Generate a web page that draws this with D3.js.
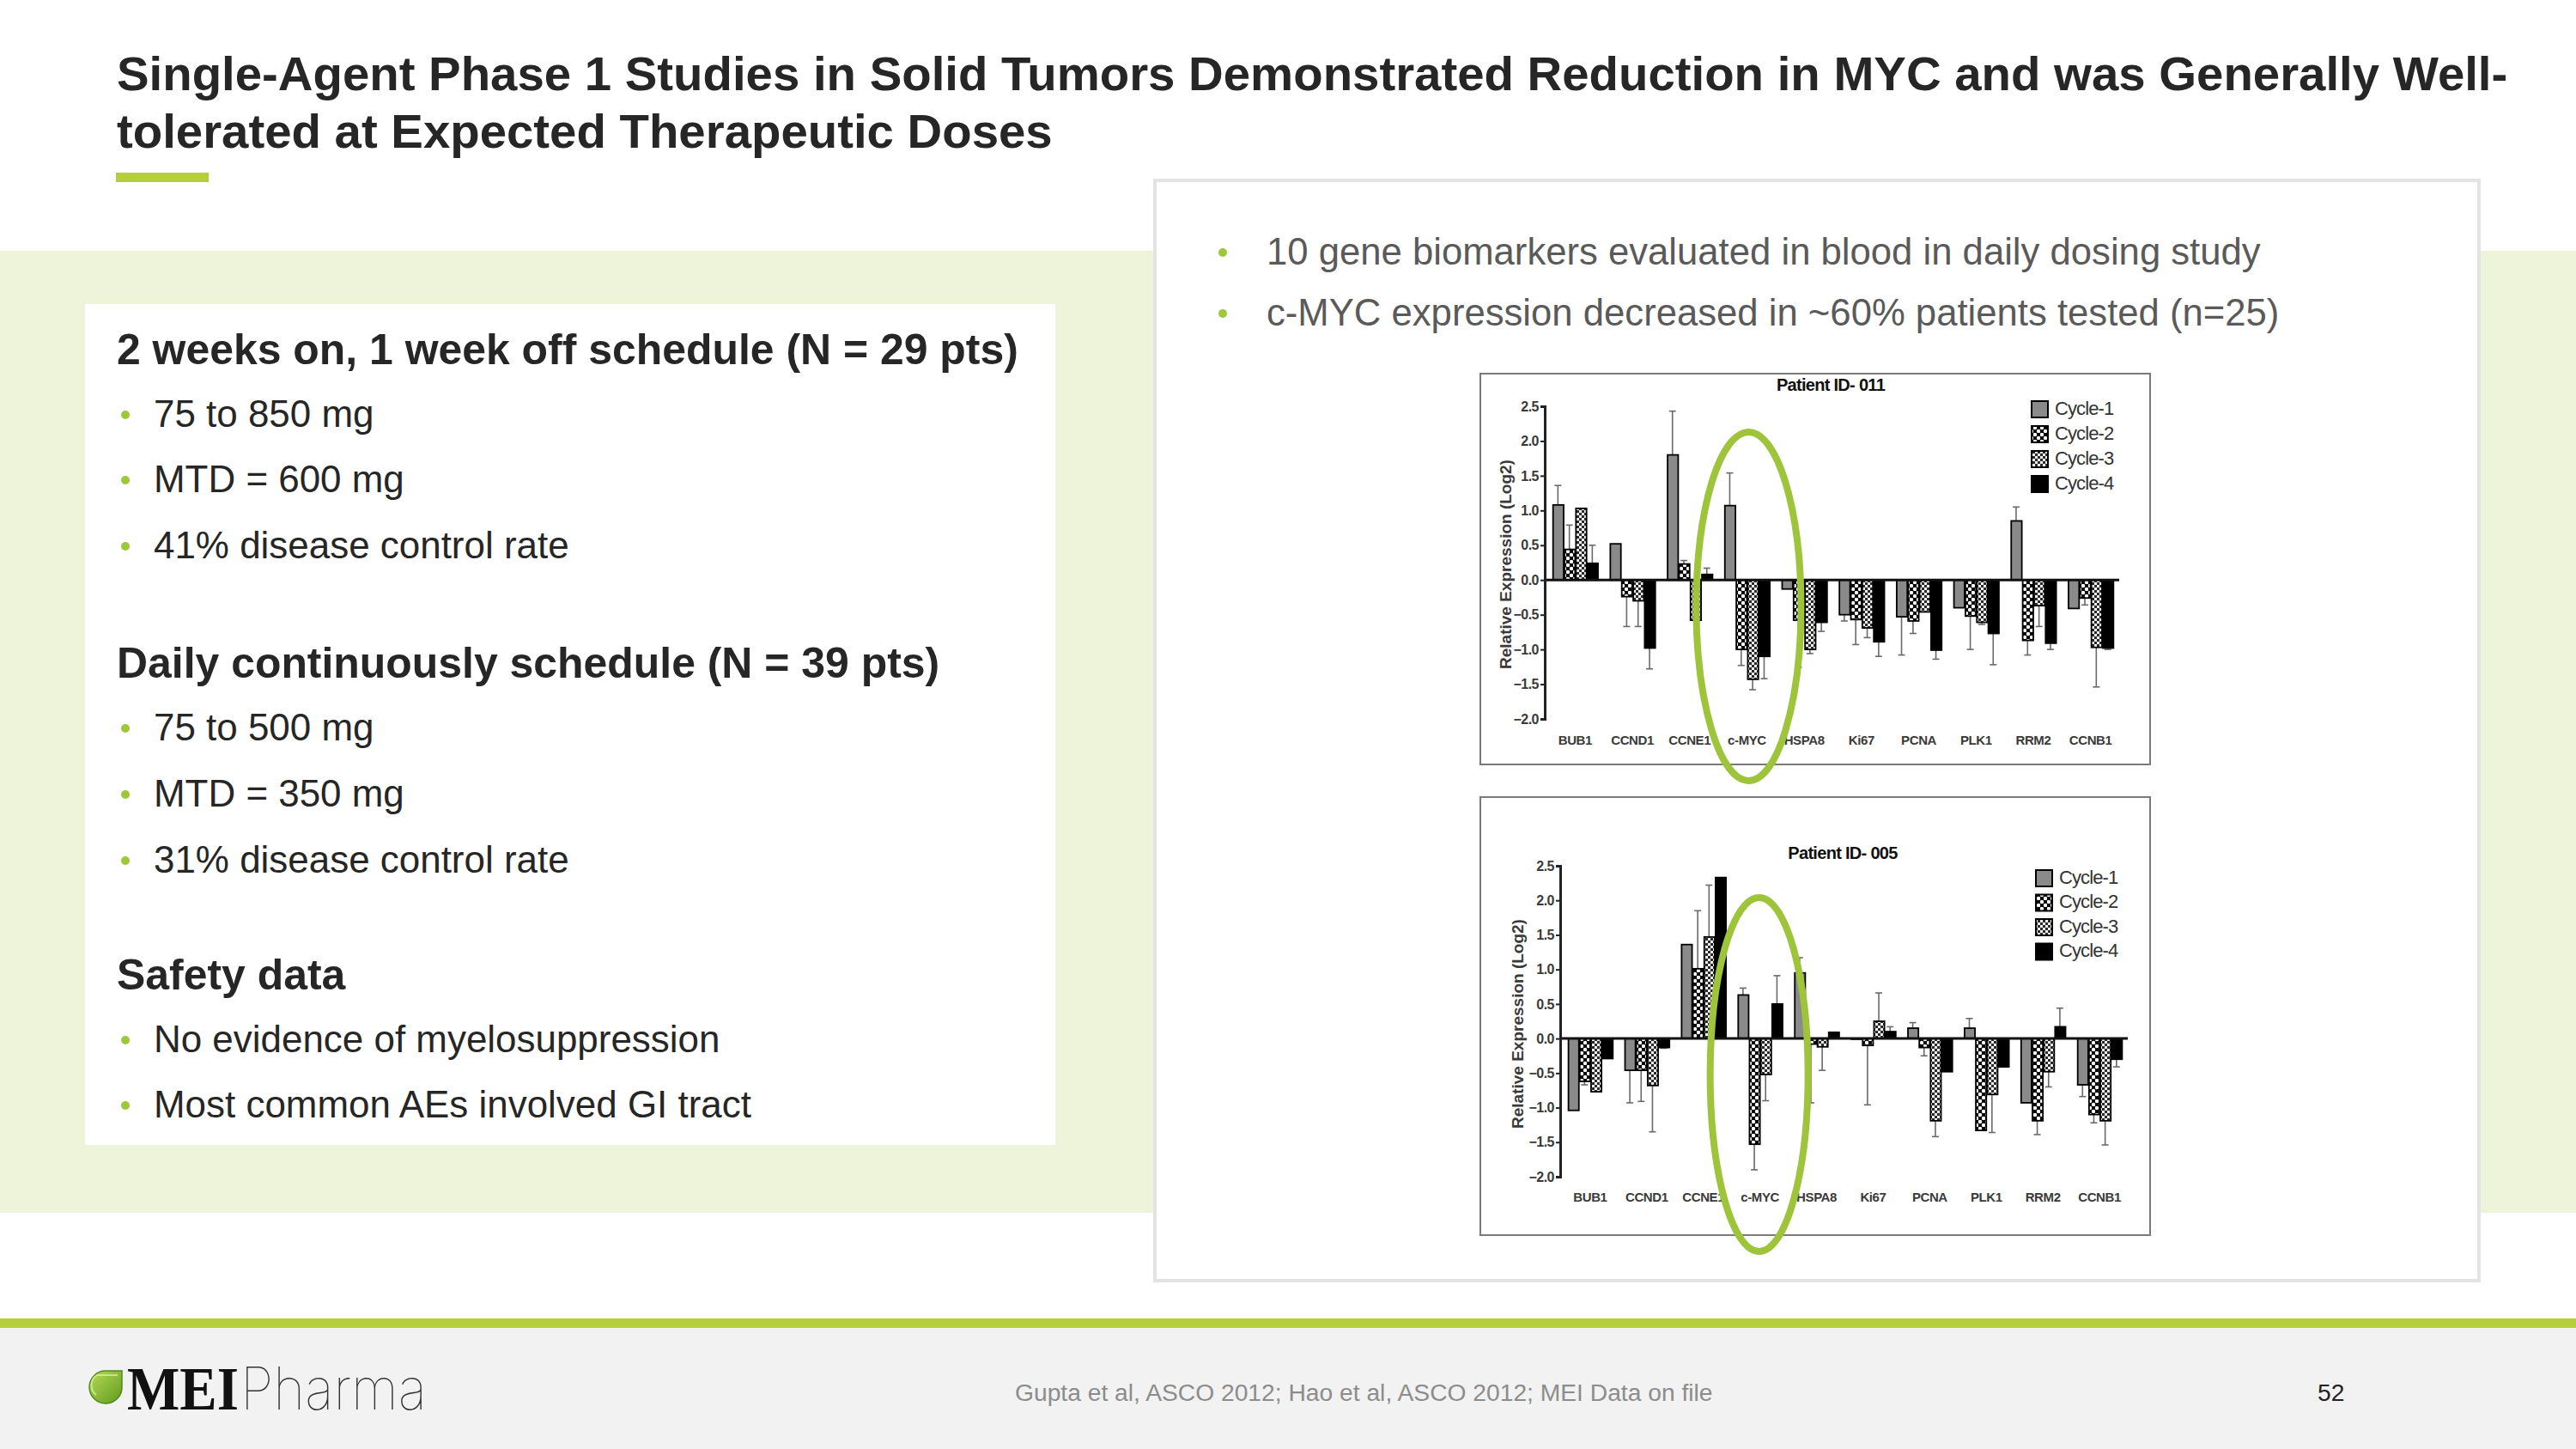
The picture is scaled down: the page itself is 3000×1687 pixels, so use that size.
<!DOCTYPE html>
<html><head><meta charset="utf-8">
<script src="https://cdn.jsdelivr.net/npm/d3@7"></script>
<style>html,body{margin:0;padding:0;background:#fff;}svg{display:block;}</style>
</head><body>
<svg id="slide" width="3000" height="1687"></svg>
<script>
// ---------------- DATA ----------------
const genes = ["BUB1","CCND1","CCNE1","c-MYC","HSPA8","Ki67","PCNA","PLK1","RRM2","CCNB1"];
const cycles = ["Cycle-1","Cycle-2","Cycle-3","Cycle-4"];
const yTicks = [-2.0,-1.5,-1.0,-0.5,0.0,0.5,1.0,1.5,2.0,2.5];

// Patient ID-011 (bar value, error-bar tip; null = no visible error bar)
const p011Cycle1 = [1.08, 0.52, 1.80, 1.07, -0.13, -0.50, -0.53, -0.40, 0.85, -0.41];
const p011Cycle2 = [0.44, -0.24, 0.23, -1.00, -0.58, -0.57, -0.59, -0.52, -0.87, -0.26];
const p011Cycle3 = [1.03, -0.30, -0.58, -1.43, -1.00, -0.69, -0.46, -0.61, -0.37, -0.97];
const p011Cycle4 = [0.24, -0.98, 0.08, -1.10, -0.61, -0.89, -1.01, -0.77, -0.91, -0.98];
const p011Err1 = [1.36, null, 2.43, 1.54, null, -0.59, -1.08, null, 1.05, null];
const p011Err2 = [0.79, -0.67, 0.28, -1.23, -1.26, -0.93, -0.77, -1.00, -1.08, -0.36];
const p011Err3 = [null, -0.67, null, -1.58, -1.06, -0.83, null, -0.64, -0.67, -1.54];
const p011Err4 = [0.50, -1.28, 0.17, -1.42, -0.74, -1.10, -1.14, -1.22, -1.00, -1.00];

// Patient ID-005
const p005Cycle1 = [-1.04, -0.46, 1.36, 0.63, 0.95, -0.01, 0.15, 0.15, -0.93, -0.67];
const p005Cycle2 = [-0.62, -0.46, 1.01, -1.53, -0.08, -0.10, -0.13, -1.33, -1.19, -1.10];
const p005Cycle3 = [-0.77, -0.68, 1.47, -0.52, -0.12, 0.25, -1.19, -0.81, -0.48, -1.19];
const p005Cycle4 = [-0.29, -0.13, 2.33, 0.50, 0.09, 0.10, -0.48, -0.41, 0.17, -0.30];
const p005Err1 = [null, -0.93, null, 0.73, 1.17, null, 0.23, 0.29, null, -0.84];
const p005Err2 = [-0.67, -0.91, 1.85, -1.90, -0.93, -0.96, -0.25, null, -1.39, -1.22];
const p005Err3 = [null, -1.35, 2.22, -0.90, -0.46, 0.66, -1.42, -1.36, -0.70, -1.54];
const p005Err4 = [null, -0.14, null, 0.91, null, 0.17, null, null, 0.44, -0.41];

// Slide text
const titleLines = ["Single-Agent Phase 1 Studies in Solid Tumors Demonstrated Reduction in MYC and was Generally Well-",
                    "tolerated at Expected Therapeutic Doses"];
const sectionHeads = ["2 weeks on, 1 week off schedule (N = 29 pts)", "Daily continuously schedule (N = 39 pts)", "Safety data"];
const sectionBullets = [["75 to 850 mg","MTD = 600 mg","41% disease control rate"],
                        ["75 to 500 mg","MTD = 350 mg","31% disease control rate"],
                        ["No evidence of myelosuppression","Most common AEs involved GI tract"]];
const panelBullets = ["10 gene biomarkers evaluated in blood in daily dosing study",
                      "c-MYC expression decreased in ~60% patients tested (n=25)"];
const footerText = "Gupta et al, ASCO 2012; Hao et al, ASCO 2012; MEI Data on file";
const pageNumber = "52";

// ---------------- DRAW ----------------
const SANS = "'Liberation Sans', Arial, Helvetica, sans-serif";
const GREEN = "#b4cf3a";
const svg = d3.select("#slide");

function fitSize(text, weight, target){
  const t = svg.append("text").attr("font-family", SANS).attr("font-weight", weight)
    .attr("font-size", 100).text(text);
  const w = t.node().getComputedTextLength(); t.remove();
  return 100 * target / w;
}

const defs = svg.append("defs");
const p2 = defs.append("pattern").attr("id","pc2").attr("width",8).attr("height",8).attr("patternUnits","userSpaceOnUse");
p2.append("rect").attr("width",8).attr("height",8).attr("fill","#000");
p2.append("circle").attr("cx",2).attr("cy",2).attr("r",2.2).attr("fill","#fff");
p2.append("circle").attr("cx",6).attr("cy",6).attr("r",2.2).attr("fill","#fff");
const p3 = defs.append("pattern").attr("id","pc3").attr("width",6).attr("height",6).attr("patternUnits","userSpaceOnUse");
p3.append("rect").attr("width",6).attr("height",6).attr("fill","#f0f0f0");
p3.append("rect").attr("width",3).attr("height",3).attr("fill","#2a2a2a");
p3.append("rect").attr("x",3).attr("y",3).attr("width",3).attr("height",3).attr("fill","#2a2a2a");
const lg = defs.append("linearGradient").attr("id","leaf").attr("x1",0).attr("y1",0).attr("x2",1).attr("y2",1);
lg.append("stop").attr("offset","0").attr("stop-color","#b8db5a");
lg.append("stop").attr("offset","1").attr("stop-color","#5f9a1c");

const cycleFill = ["#8a8a8a","url(#pc2)","url(#pc3)","#000"];

// Background band
svg.append("rect").attr("x",0).attr("y",292).attr("width",3000).attr("height",1120).attr("fill","#eef4da");

// Title
const tSize = fitSize(titleLines[0], "bold", 2785);
titleLines.forEach((l,i)=> svg.append("text").attr("x",136).attr("y",105+i*67)
  .attr("font-family",SANS).attr("font-weight","bold").attr("font-size",tSize).attr("fill","#262626").text(l));
svg.append("rect").attr("x",135).attr("y",201).attr("width",108).attr("height",11).attr("fill",GREEN);

// Left white box
svg.append("rect").attr("x",99).attr("y",354).attr("width",1130).attr("height",979).attr("fill","#fff");
const hSize = fitSize(sectionHeads[0], "bold", 1050);
const bSize = fitSize(sectionBullets[2][1], "normal", 696);
const headY = [424, 789, 1152];
const bulletY = [[497,573,650],[862,939,1016],[1225,1301]];
sectionHeads.forEach((h,i)=>{
  svg.append("text").attr("x",136).attr("y",headY[i]).attr("font-family",SANS).attr("font-weight","bold")
    .attr("font-size",hSize).attr("fill","#262626").text(h);
  sectionBullets[i].forEach((b,j)=>{
    svg.append("circle").attr("cx",146).attr("cy",bulletY[i][j]-14).attr("r",5).attr("fill","#9dc83a");
    svg.append("text").attr("x",179).attr("y",bulletY[i][j]).attr("font-family",SANS)
      .attr("font-size",bSize).attr("fill","#262626").text(b);
  });
});

// Right panel
svg.append("rect").attr("x",1345).attr("y",210).attr("width",1542).attr("height",1281)
  .attr("fill","#fff").attr("stroke","#e3e3e3").attr("stroke-width",4);
const pbSize = fitSize(panelBullets[1], "normal", 1180);
panelBullets.forEach((b,i)=>{
  svg.append("circle").attr("cx",1424).attr("cy",294+i*71).attr("r",5).attr("fill","#9dc83a");
  svg.append("text").attr("x",1475).attr("y",308+i*71).attr("font-family",SANS)
    .attr("font-size",pbSize).attr("fill","#5a5a5a").text(b);
});

// ---------------- CHARTS ----------------
function drawChart(cfg){
  const g = svg.append("g");
  g.append("rect").attr("x",cfg.frame[0]).attr("y",cfg.frame[1])
    .attr("width",cfg.frame[2]-cfg.frame[0]).attr("height",cfg.frame[3]-cfg.frame[1])
    .attr("fill","#fff").attr("stroke","#7a7a7a").attr("stroke-width",2);

  const y = d3.scaleLinear().domain([-2.0,2.5]).range([cfg.yBottom, cfg.yTop]);
  const x0 = d3.scaleBand().domain(genes).range([cfg.axisX+2, cfg.xEnd]).paddingInner(0.2).paddingOuter(0.1);
  const x1 = d3.scaleBand().domain(cycles).range([0, x0.bandwidth()]);

  // error bars
  cycles.forEach((c,ci)=>{
    genes.forEach((gn,gi)=>{
      const v = cfg.values[ci][gi], e = cfg.errs[ci][gi];
      if(e===null) return;
      const cx = x0(gn)+x1(c)+x1.bandwidth()/2;
      g.append("line").attr("x1",cx).attr("x2",cx).attr("y1",y(v)).attr("y2",y(e))
        .attr("stroke","#6a6a6a").attr("stroke-width",1.6);
      g.append("line").attr("x1",cx-4).attr("x2",cx+4).attr("y1",y(e)).attr("y2",y(e))
        .attr("stroke","#6a6a6a").attr("stroke-width",1.6);
    });
  });
  // bars
  cycles.forEach((c,ci)=>{
    g.append("g").selectAll("rect").data(genes.map((gn,gi)=>({gn, v: cfg.values[ci][gi]})))
      .join("rect")
      .attr("x", d=>x0(d.gn)+x1(c)+1)
      .attr("width", x1.bandwidth()-1)
      .attr("y", d=>y(Math.max(0,d.v)))
      .attr("height", d=>Math.abs(y(d.v)-y(0)))
      .attr("fill", cycleFill[ci]).attr("stroke","#000").attr("stroke-width",1.8);
  });
  // zero line
  g.append("line").attr("x1",cfg.axisX).attr("x2",cfg.xEnd).attr("y1",y(0)).attr("y2",y(0))
    .attr("stroke","#111").attr("stroke-width",3);
  // y axis
  const ax = g.append("g").attr("transform",`translate(${cfg.axisX},0)`)
    .call(d3.axisLeft(y).tickValues(yTicks).tickFormat(d3.format(".1f")).tickSize(5).tickPadding(2));
  ax.select(".domain").attr("stroke","#222").attr("stroke-width",3);
  ax.selectAll(".tick line").attr("stroke","#222").attr("stroke-width",2);
  ax.selectAll(".tick text").attr("font-family",SANS).attr("font-weight","bold").attr("font-size",16)
    .attr("letter-spacing",-0.5).attr("fill","#3a3a3a");
  // axis label
  g.append("text").attr("transform",`translate(${cfg.ylabX},${cfg.ylabY}) rotate(-90)`)
    .attr("text-anchor","middle").attr("dominant-baseline","middle")
    .attr("font-family",SANS).attr("font-weight","bold").attr("font-size",19).attr("fill","#3a3a3a")
    .text("Relative Expression (Log2)");
  // category labels
  g.append("g").selectAll("text").data(genes).join("text")
    .attr("x", d=>x0(d)+x0.bandwidth()/2).attr("y", cfg.labelY)
    .attr("text-anchor","middle").attr("dominant-baseline","middle")
    .attr("font-family",SANS).attr("font-weight","bold").attr("font-size",15).attr("letter-spacing",-0.4)
    .attr("fill","#3a3a3a").text(d=>d);
  // title
  g.append("text").attr("x",cfg.titleX).attr("y",cfg.titleY).attr("text-anchor","middle")
    .attr("dominant-baseline","middle").attr("font-family",SANS).attr("font-weight","bold")
    .attr("font-size",20).attr("letter-spacing",-0.7).attr("fill","#111").text(cfg.title);
  // legend
  cycles.forEach((c,ci)=>{
    const ly = cfg.legendY + ci*cfg.legendStep;
    g.append("rect").attr("x",cfg.legendX).attr("y",ly-10).attr("width",19).attr("height",19)
      .attr("fill",cycleFill[ci]).attr("stroke","#000").attr("stroke-width",2);
    g.append("text").attr("x",cfg.legendX+27).attr("y",ly).attr("dominant-baseline","middle")
      .attr("font-family",SANS).attr("font-size",22).attr("letter-spacing",-0.9).attr("fill","#333").text(c);
  });
  // highlight ellipse around c-MYC
  g.append("ellipse").attr("cx", x0("c-MYC")+x0.bandwidth()/2+cfg.ellDx).attr("cy",cfg.ellCy)
    .attr("rx",cfg.ellRx).attr("ry",cfg.ellRy).attr("fill","none")
    .attr("stroke","#9dc43b").attr("stroke-width",8);
}

drawChart({
  frame:[1724,435,2504,890], axisX:1799, xEnd:2468, yTop:473, yBottom:837,
  values:[p011Cycle1,p011Cycle2,p011Cycle3,p011Cycle4], errs:[p011Err1,p011Err2,p011Err3,p011Err4],
  ylabX:1755, ylabY:657, labelY:863, title:"Patient ID- 011", titleX:2132, titleY:450,
  legendX:2366, legendY:477, legendStep:29, ellDx:2, ellCy:706, ellRx:61, ellRy:203
});
drawChart({
  frame:[1724,928,2504,1438], axisX:1817, xEnd:2478, yTop:1008, yBottom:1370,
  values:[p005Cycle1,p005Cycle2,p005Cycle3,p005Cycle4], errs:[p005Err1,p005Err2,p005Err3,p005Err4],
  ylabX:1769, ylabY:1192, labelY:1395, title:"Patient ID- 005", titleX:2146, titleY:995,
  legendX:2371, legendY:1023, legendStep:28.5, ellDx:-1, ellCy:1251, ellRx:57, ellRy:206
});

// ---------------- FOOTER ----------------
svg.append("rect").attr("x",0).attr("y",1535).attr("width",3000).attr("height",11).attr("fill",GREEN);
svg.append("rect").attr("x",0).attr("y",1546).attr("width",3000).attr("height",141).attr("fill","#f2f2f2");
const fSize = fitSize(footerText, "normal", 813);
svg.append("text").attr("x",1182).attr("y",1631).attr("font-family",SANS).attr("font-size",fSize)
  .attr("fill","#8c8c8c").text(footerText);
svg.append("text").attr("x",2699).attr("y",1631).attr("font-family",SANS).attr("font-size",fSize)
  .attr("fill","#222").text(pageNumber);
// logo
svg.append("path").attr("d","M142,1596 L142,1614 A19,19 0 1 1 123,1596 Z")
  .attr("fill","url(#leaf)").attr("stroke","#4f8a18").attr("stroke-width",1.5);
svg.append("path").attr("d","M137,1601 L113,1601 A14,14 0 0 0 112,1624").attr("fill","none")
  .attr("stroke","#d6ef96").attr("stroke-width",2).attr("opacity",0.8);
svg.append("text").attr("x",148).attr("y",1641).attr("font-family","'Liberation Serif','Times New Roman',serif")
  .attr("font-weight","bold").attr("font-size",72).attr("textLength",130).attr("lengthAdjust","spacingAndGlyphs")
  .attr("fill","#111").text("MEI");
svg.append("text").attr("x",280).attr("y",1641).attr("font-family","Inter, Lato, 'Open Sans', sans-serif")
  .attr("font-weight",100).attr("font-size",68).attr("textLength",217).attr("lengthAdjust","spacingAndGlyphs")
  .attr("fill","#333").text("Pharma");
</script>
</body></html>
